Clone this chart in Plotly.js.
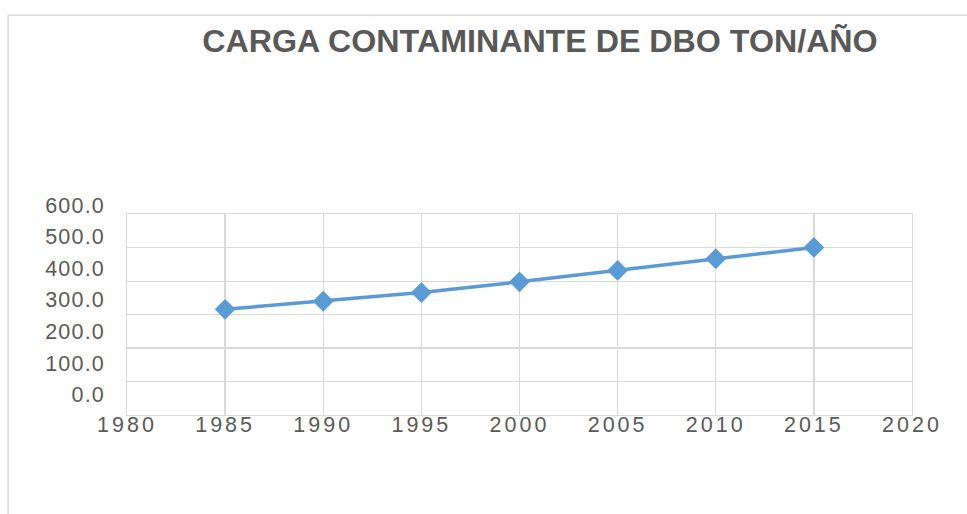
<!DOCTYPE html>
<html>
<head>
<meta charset="utf-8">
<script src="https://cdn.plot.ly/plotly-3.0.1.min.js"></script>
<style>
html,body{margin:0;padding:0;background:#fff;}
#chart{width:967px;height:514px;}
.xtick text{letter-spacing:3px;}
.y2tick text{letter-spacing:1.2px;}
</style>
</head>
<body>
<div id="chart"></div>
<script>
// Data
const years = [1985, 1990, 1995, 2000, 2005, 2010, 2015];
const cargaDBO = [316, 340, 366, 398, 432, 467, 501];
const yTickVals = [0, 100, 200, 300, 400, 500, 600];
const yTickText = ["0.0", "100.0", "200.0", "300.0", "400.0", "500.0", "600.0"];
const xTickVals = [1980, 1985, 1990, 1995, 2000, 2005, 2010, 2015, 2020];
const chartTitle = "CARGA CONTAMINANTE DE DBO TON/AÑO";

const W = 967, H = 514;
const plotL = 127.3, plotR = 911.7, gridTop = 214.3, plotBot = 415.3, areaTop = 195;
const areaH = plotBot - areaTop;
const gridDomTop = (plotBot - gridTop) / areaH;
// label axis: 0 at y=395, 600 at y=205
const pxPerUnit = (395 - 205) / 600;
const lblMin = -(plotBot - 395) / pxPerUnit;
const lblMax = (395 - areaTop) / pxPerUnit;

const grey = "#595959";
const gridC = "#d9d9d9";

const trace = {
  x: years, y: cargaDBO, type: "scatter", mode: "lines+markers",
  line: {color: "#5b9bd5", width: 3.5},
  marker: {symbol: "diamond", size: 16, color: "#5b9bd5"},
  xaxis: "x", yaxis: "y", hoverinfo: "x+y"
};
// invisible helper trace so the label axis is drawn
const labelAxisTrace = {
  x: [null], y: [null], type: "scatter", mode: "markers",
  xaxis: "x2", yaxis: "y2", hoverinfo: "skip", showlegend: false,
  marker: {opacity: 0}
};

const layout = {
  width: W, height: H,
  margin: {l: plotL, r: W - plotR, t: areaTop, b: H - plotBot, pad: 0},
  paper_bgcolor: "#fff", plot_bgcolor: "rgba(0,0,0,0)",
  showlegend: false,
  font: {family: "Liberation Sans, Arial, sans-serif", color: grey},
  title: {
    text: "<b>" + chartTitle + "</b>",
    font: {family: "Liberation Sans, Arial, sans-serif", size: 32.2, color: grey},
    xref: "container", yref: "container",
    x: 540 / W, xanchor: "center", y: 1 - 40.5 / H, yanchor: "middle"
  },
  xaxis: {
    range: [1980, 2020], tickvals: xTickVals, ticktext: xTickVals.map(String),
    showgrid: true, gridcolor: gridC, gridwidth: 1.3, zeroline: false,
    showline: true, linecolor: gridC, linewidth: 1.3, mirror: true,
    ticks: "", ticklen: 0, ticklabelstandoff: -10,
    tickfont: {size: 21.5, color: grey}, anchor: "y", fixedrange: true
  },
  yaxis: {
    domain: [0, gridDomTop], range: [0, 600], dtick: 100,
    showgrid: true, gridcolor: gridC, gridwidth: 1.3, zeroline: false,
    showline: true, linecolor: gridC, linewidth: 1.3, mirror: true,
    showticklabels: false, ticks: "", anchor: "x", fixedrange: true
  },
  xaxis2: {
    domain: [0, 1], range: [1980, 2020], visible: false, showgrid: false,
    zeroline: false, anchor: "y2", fixedrange: true
  },
  yaxis2: {
    domain: [0, 1], range: [lblMin, lblMax], tickvals: yTickVals, ticktext: yTickText,
    showgrid: false, zeroline: false, showline: false, ticks: "",
    tickfont: {size: 21.5, color: grey}, anchor: "x2", side: "left", ticklabelstandoff: 21, fixedrange: true
  },
  shapes: [
    {type: "line", xref: "paper", yref: "paper",
     x0: (8.5 - plotL) / (plotR - plotL), x1: (8.5 - plotL) / (plotR - plotL),
     y0: (plotBot - 15) / areaH, y1: (plotBot - 520) / areaH,
     line: {color: gridC, width: 1.5}},
    {type: "line", xref: "paper", yref: "paper",
     x0: (8.5 - plotL) / (plotR - plotL), x1: (975 - plotL) / (plotR - plotL),
     y0: (plotBot - 15) / areaH, y1: (plotBot - 15) / areaH,
     line: {color: gridC, width: 1.5}}
  ]
};

Plotly.newPlot("chart", [trace, labelAxisTrace], layout, {displayModeBar: false, staticPlot: true});
</script>
</body>
</html>
